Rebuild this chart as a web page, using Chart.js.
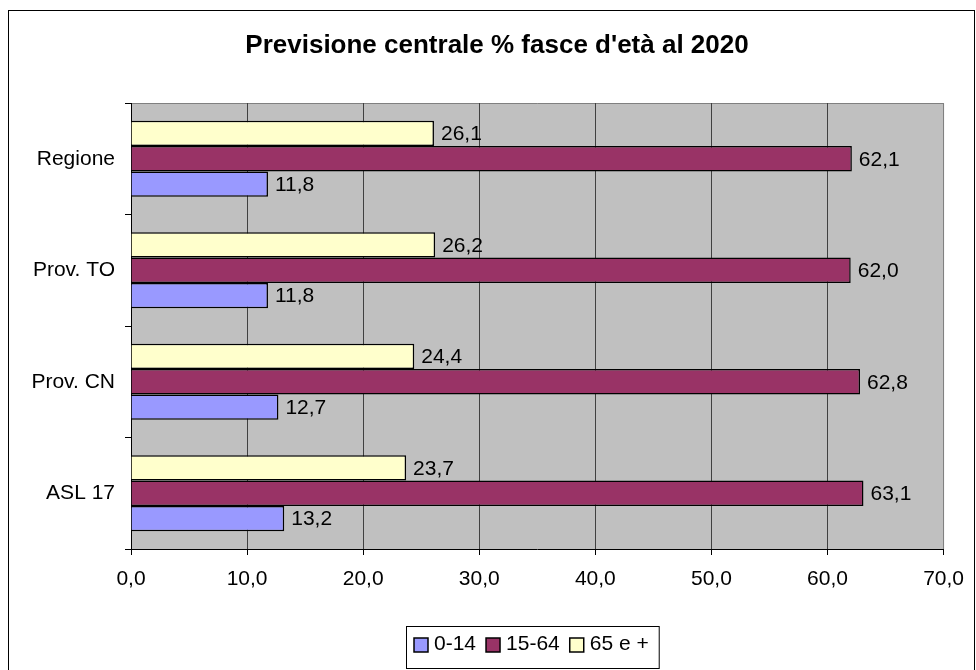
<!DOCTYPE html>
<html>
<head>
<meta charset="utf-8">
<script src="https://cdn.jsdelivr.net/npm/chart.js@4"></script>
<style>
  html, body { margin: 0; padding: 0; background: #fff; }
  #wrap { position: relative; width: 976px; height: 670px; }
</style>
</head>
<body>
<div id="wrap"><canvas id="ageChart" width="976" height="670"></canvas></div>
<script>
// Chart data
const chartTitle = "Previsione centrale % fasce d'età al 2020";
const areas = ['Regione', 'Prov. TO', 'Prov. CN', 'ASL 17'];
const age0_14 = [11.8, 11.8, 12.7, 13.2];
const age15_64 = [62.1, 62.0, 62.8, 63.1];
const age65plus = [26.1, 26.2, 24.4, 23.7];
const xTicks = [0, 10, 20, 30, 40, 50, 60, 70];

const FONT = '"Liberation Sans", Arial, sans-serif';

// Italian style number: 62,1
function fmt(v) {
    return v.toFixed(1).replace('.', ',');
}

// Frame, grey plot background, title
const backgroundPlugin = {
    id: 'background',
    beforeDraw(chart) {
        const ctx = chart.ctx;
        const a = chart.chartArea;
        ctx.save();
        ctx.fillStyle = '#ffffff';
        ctx.fillRect(0, 0, chart.width, chart.height);
        ctx.strokeStyle = '#000000';
        ctx.lineWidth = 1;
        ctx.strokeRect(8.5, 10.5, 966, 700);
        ctx.fillStyle = '#C0C0C0';
        ctx.fillRect(a.left, a.top, a.right - a.left, a.bottom - a.top);
        ctx.strokeStyle = '#808080';
        ctx.beginPath();
        ctx.moveTo(a.left, Math.round(a.top) + 0.5);
        ctx.lineTo(a.right, Math.round(a.top) + 0.5);
        ctx.lineTo(a.right, a.bottom);
        ctx.stroke();

        ctx.fillStyle = '#000';
        ctx.font = 'bold 26px ' + FONT;
        ctx.textAlign = 'center';
        ctx.textBaseline = 'middle';
        ctx.fillText(chartTitle, 497, 46);
        ctx.restore();
    }
};

// Value labels at bar ends
const valueLabels = {
    id: 'valueLabels',
    afterDatasetsDraw(chart) {
        const ctx = chart.ctx;
        ctx.save();
        ctx.font = '21px ' + FONT;
        ctx.fillStyle = '#000';
        ctx.textAlign = 'left';
        ctx.textBaseline = 'middle';
        chart.data.datasets.forEach((ds, i) => {
            const meta = chart.getDatasetMeta(i);
            meta.data.forEach((bar, j) => {
                ctx.fillText(fmt(ds.data[j]), bar.x + 7, bar.y + 1);
            });
        });
        ctx.restore();
    }
};

// Boxed legend under the plot (order 0-14, 15-64, 65 e +)
const boxLegend = {
    id: 'boxLegend',
    afterDraw(chart) {
        const ctx = chart.ctx;
        const items = chart.data.datasets.slice().reverse();
        ctx.save();
        ctx.font = '21px ' + FONT;
        ctx.textBaseline = 'middle';
        ctx.textAlign = 'left';
        let x = 414;
        const yMid = 645;
        const sw = 14;
        items.forEach(ds => {
            ctx.fillStyle = ds.backgroundColor;
            ctx.fillRect(x, yMid - sw / 2, sw, sw);
            ctx.strokeStyle = '#000';
            ctx.lineWidth = 1.5;
            ctx.strokeRect(x, yMid - sw / 2, sw, sw);
            x += sw + 6;
            ctx.fillStyle = '#000';
            ctx.fillText(ds.label, x, yMid - 1);
            x += ctx.measureText(ds.label).width + 10;
        });
        ctx.strokeStyle = '#000';
        ctx.lineWidth = 1;
        ctx.strokeRect(406.5, 626.5, x - 406, 42);
        ctx.restore();
    }
};

const ctx = document.getElementById('ageChart').getContext('2d');
new Chart(ctx, {
    type: 'bar',
    data: {
        labels: areas,
        datasets: [
            {
                label: '65 e +',
                data: age65plus,
                backgroundColor: '#FFFFCC',
                borderColor: '#000',
                borderWidth: 1.5
            },
            {
                label: '15-64',
                data: age15_64,
                backgroundColor: '#993366',
                borderColor: '#000',
                borderWidth: 1.5
            },
            {
                label: '0-14',
                data: age0_14,
                backgroundColor: '#9999FF',
                borderColor: '#000',
                borderWidth: 1.5
            }
        ]
    },
    options: {
        indexAxis: 'y',
        responsive: false,
        animation: false,
        devicePixelRatio: 1,
        categoryPercentage: 0.68,
        barPercentage: 1,
        layout: {
            padding: { top: 103, right: 32, left: 0, bottom: 0 }
        },
        plugins: {
            legend: { display: false },
            title: { display: false },
            tooltip: { enabled: false }
        },
        scales: {
            x: {
                min: 0,
                max: 70,
                afterBuildTicks: (scale) => {
                    scale.ticks = xTicks.map(v => ({ value: v }));
                },
                afterFit: (scale) => { scale.height = 121; },
                border: { color: '#000', width: 1 },
                grid: {
                    color: (c) => (c.tick && c.tick.value === 70 ? '#808080' : '#404040'),
                    tickColor: '#000',
                    tickLength: 6
                },
                ticks: {
                    padding: 12,
                    color: '#000',
                    font: { family: FONT, size: 21 },
                    callback: (v) => fmt(v)
                }
            },
            y: {
                afterFit: (scale) => { scale.width = 131; },
                border: { color: '#000', width: 1 },
                grid: {
                    offset: true,
                    drawOnChartArea: false,
                    tickColor: '#000',
                    tickLength: 6
                },
                ticks: {
                    padding: 10,
                    color: '#000',
                    font: { family: FONT, size: 21 }
                }
            }
        }
    },
    plugins: [backgroundPlugin, valueLabels, boxLegend]
});
</script>
</body>
</html>
